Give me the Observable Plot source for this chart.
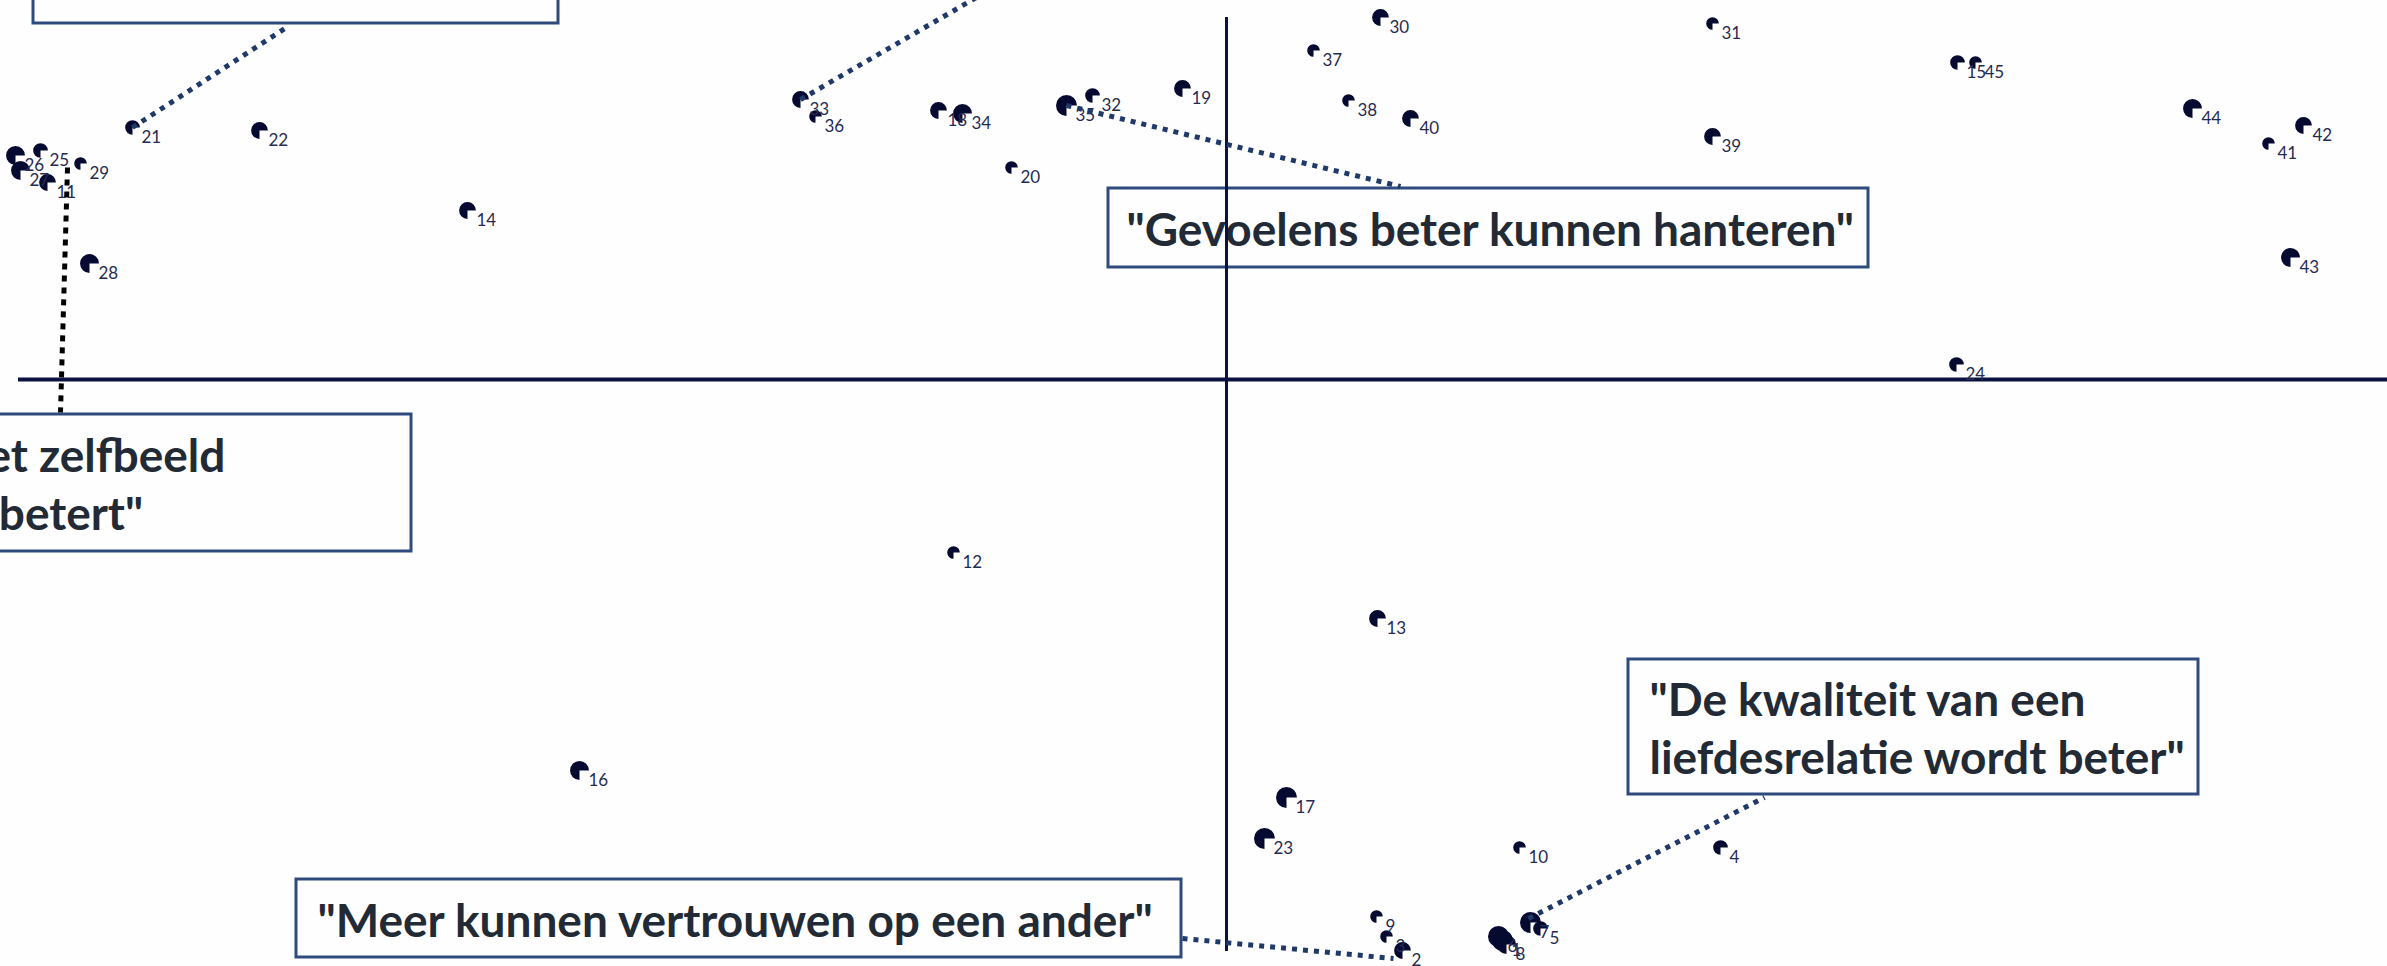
<!DOCTYPE html>
<html><head><meta charset="utf-8">
<script src="https://cdn.jsdelivr.net/npm/d3@7"></script>
<script src="https://cdn.jsdelivr.net/npm/@observablehq/plot@0.6"></script>
<style>html,body{margin:0;padding:0;background:#fefefe;overflow:hidden;} #chart svg{display:block;}</style>
</head><body><div id="chart"></div>
<script>
// Item numbers, positions on the two dimensions, and weight (marker size)
const ids = [1,2,3,4,5,6,7,8,9,10,11,12,13,14,15,16,17,18,19,20,21,22,23,24,25,26,27,28,29,30,31,32,33,34,35,36,37,38,39,40,41,42,43,44,45];
const dim1 = [0.276,0.176,0.160,0.494,0.314,0.272,0.304,0.280,0.150,0.293,-1.179,-0.273,0.151,-0.759,0.731,-0.647,0.060,-0.288,-0.044,-0.215,-1.094,-0.967,0.038,0.730,-1.186,-1.211,-1.206,-1.137,-1.146,0.154,0.486,-0.134,-0.426,-0.264,-0.160,-0.411,0.087,0.122,0.486,0.184,1.042,1.077,1.064,0.966,0.749];
const dim2 = [-0.561,-0.571,-0.557,-0.468,-0.549,-0.557,-0.543,-0.565,-0.537,-0.468,0.197,-0.173,-0.239,0.169,0.317,-0.391,-0.418,0.269,0.291,0.212,0.252,0.249,-0.459,0.015,0.229,0.224,0.209,0.116,0.216,0.362,0.356,0.284,0.280,0.266,0.274,0.263,0.329,0.279,0.243,0.261,0.236,0.254,0.122,0.271,0.317];
const weights = [100,64,36,49,49,100,100,81,36,36,64,36,64,64,49,81,100,64,64,36,49,64,100,49,49,81,81,81,36,64,36,49,64,81,100,36,36,36,64,64,36,64,81,81,36];

// Quote annotations
const quoteTexts = ["\"Gevoelens beter kunnen hanteren\"", "\"Het zelfbeeld\nverbetert\"", "\"Meer kunnen vertrouwen op een ander\"", "\"De kwaliteit van een\nliefdesrelatie wordt beter\""];
const quoteX = [-0.100, -1.293, -0.909, 0.423];
const quoteY = [0.152, -0.103, -0.539, -0.347];
const boxX1 = [-0.118, -1.246, -0.930, 0.402, -1.193];
const boxX2 = [0.642, -0.815, -0.045, 0.972, -0.668];
const boxY1 = [0.191, -0.035, -0.500, -0.280, 0.450];
const boxY2 = [0.112, -0.172, -0.578, -0.415, 0.356];
// Connectors (blue dotted) and the black dotted one
const linkX1 = [-1.094, -0.426, -0.160, -0.044, 0.302];
const linkY1 = [0.252, 0.280, 0.274, -0.559, -0.539];
const linkX2 = [-0.940, -0.238, 0.174, 0.167, 0.538];
const linkY2 = [0.352, 0.389, 0.193, -0.579, -0.418];
const blackX1 = [-1.159], blackY1 = [0.212], blackX2 = [-1.166], blackY2 = [-0.033];

const points = ids.map((id, i) => ({id, x: dim1[i], y: dim2[i], w: weights[i]}));
const quotes = quoteTexts.map((t, i) => ({text: t, x: quoteX[i], y: quoteY[i]}));
const boxes = boxX1.map((v, i) => ({x1: v, x2: boxX2[i], y1: boxY1[i], y2: boxY2[i]}));
const links = linkX1.map((v, i) => ({x1: v, y1: linkY1[i], x2: linkX2[i], y2: linkY2[i]}));
const blackLinks = blackX1.map((v, i) => ({x1: v, y1: blackY1[i], x2: blackX2[i], y2: blackY2[i]}));

// circle with the lower-right quarter removed
const pac = {
  draw(ctx, size) {
    const r = Math.sqrt(size / Math.PI);
    ctx.moveTo(0, 0);
    ctx.lineTo(0, r);
    ctx.arc(0, 0, r, Math.PI / 2, 2 * Math.PI);
    ctx.closePath();
  }
};

const chart = Plot.plot({
  width: 2387, height: 966, margin: 0,
  style: {background: "#fefefe", fontFamily: "Lato, sans-serif"},
  x: {domain: [-1.226, 1.161], axis: null},
  y: {domain: [-0.587, 0.379], axis: null},
  r: {type: "sqrt", domain: [0, 100], range: [0, 10.5]},
  marks: [
    Plot.rect(boxes, {x1: "x1", x2: "x2", y1: "y1", y2: "y2", fill: "none", stroke: "#2f4a7c", strokeWidth: 3}),
    Plot.text(quotes, {x: "x", y: "y", text: "text", textAnchor: "start", lineAnchor: "middle", fontSize: 46, fontWeight: "bold", fill: "#222a35", lineHeight: 1.26, letterSpacing: 0.4}),
    Plot.ruleY([0], {x1: -1.208, x2: 1.161, stroke: "#0c1240", strokeWidth: 4}),
    Plot.ruleX([0], {y1: -0.572, y2: 0.362, stroke: "#0c1240", strokeWidth: 3}),
    Plot.dot(points, {x: "x", y: "y", r: "w", symbol: pac, fill: "#060a30", stroke: null}),
    Plot.text(points, {x: "x", y: "y", text: "id", dx: 9, dy: 10, textAnchor: "start", fontSize: 17, fill: "#262b52"}),
    Plot.link(links, {x1: "x1", y1: "y1", x2: "x2", y2: "y2", stroke: "#1f3a68", strokeWidth: 5, strokeDasharray: "5,6"}),
    Plot.link(blackLinks, {x1: "x1", y1: "y1", x2: "x2", y2: "y2", stroke: "#000000", strokeWidth: 5, strokeDasharray: "6,6"})
  ]
});
document.getElementById("chart").appendChild(chart);
</script>
</body></html>
